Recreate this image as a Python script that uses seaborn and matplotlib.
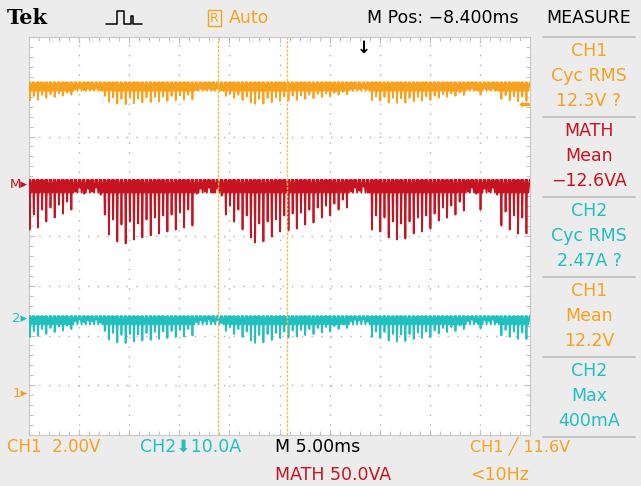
import numpy as np
import pandas as pd
import matplotlib.pyplot as plt
import seaborn as sns
from matplotlib.lines import Line2D

sns.set_theme(style='white')
plt.rcParams['font.family'] = ['DejaVu Sans']

# --- scope settings ---
ch1_scale = 2.0       # V/div
ch2_scale = 10.0      # A/div
math_scale = 50.0     # VA/div
time_scale = 5.0      # ms/div
ch1_offset = -3.16    # div, "1" marker
ch2_offset = -1.65    # div, "2" marker
math_offset = 1.03    # div, "M" marker
trig_level = 11.6     # V on CH1
trig_pos = 6.68       # div (M Pos -8.400ms)
cursor_pos = [3.77, 5.15]

# resting level of each trace between current pulses, and the ringing just below it
ch1_top, ch1_band = 12.5, 12.15     # V
ch2_top, ch2_band = 0.4, -1.3       # A
math_top, math_band = 5.0, -8.0     # VA

# bottom of each pulse, left to right
ch1_dips = [11.78, 11.95, 11.80, 12.00, 11.87, 12.02, 11.91, 12.06, 11.96, 12.09, 12.00,
            12.21, 12.25, 12.18, 12.24, 12.21, 12.25, 12.17,
            11.95, 11.72, 11.89, 11.64, 11.83, 11.62, 11.87, 11.66, 11.84, 11.69,
            11.89, 11.71, 11.91, 11.73, 11.93, 11.75, 11.95, 11.78, 11.97, 11.80, 12.00, 11.82,
            12.18, 12.24, 12.21, 12.25, 12.19, 12.24, 12.16,
            11.95, 12.05, 11.87, 12.00, 11.78, 11.93, 11.69, 11.63, 11.84, 11.64, 11.87, 11.70, 11.89,
            11.75, 11.93, 11.77, 11.96, 11.79, 11.97,
            11.83, 12.00, 11.86, 12.03, 11.91, 12.05, 11.93, 12.07, 12.00, 12.11, 12.02,
            12.21, 12.25, 12.22, 12.26, 12.19,
            11.78, 11.93, 11.76, 11.91, 11.69, 11.87, 11.67, 11.85, 11.68, 11.87,
            11.74, 11.91, 11.76, 11.93, 11.79,
            11.96, 11.88, 12.02, 11.91, 12.05, 11.95, 12.09, 11.99,
            12.21, 12.25, 12.18, 12.00, 12.24, 12.21, 12.25, 12.17,
            11.83, 11.98, 11.78, 11.94, 11.74, 11.92, 11.74]

ch2_dips = [-3.8, -2.6, -3.6, -2.2, -3.2, -2.0, -2.8, -1.7, -2.5, -1.5, -2.2,
            -0.6, -0.3, -0.8, -0.4, -0.6, -0.3, -0.9,
            -2.6, -4.3, -3.0, -4.9, -3.4, -5.0, -3.2, -4.7, -3.3, -4.5,
            -3.0, -4.4, -2.8, -4.2, -2.7, -4.0, -2.6, -3.8, -2.4, -3.7, -2.2, -3.5,
            -0.8, -0.4, -0.6, -0.3, -0.7, -0.4, -1.0,
            -2.6, -1.8, -3.2, -2.2, -3.8, -2.7, -4.5, -5.0, -3.4, -4.9, -3.2, -4.4, -3.0,
            -4.0, -2.7, -3.9, -2.5, -3.7, -2.4,
            -3.4, -2.2, -3.2, -2.0, -2.9, -1.8, -2.7, -1.6, -2.2, -1.3, -2.0,
            -0.6, -0.3, -0.5, -0.2, -0.7,
            -3.8, -2.7, -4.0, -2.8, -4.5, -3.2, -4.7, -3.3, -4.6, -3.2,
            -4.2, -2.9, -4.0, -2.7, -3.8,
            -2.5, -3.1, -2.0, -2.8, -1.8, -2.6, -1.5, -2.2,
            -0.6, -0.3, -0.8, -2.1, -0.4, -0.6, -0.3, -0.9,
            -3.5, -2.4, -3.8, -2.7, -4.2, -2.9, -4.2]

math_dips = [-45, -30, -43, -25, -37, -23, -33, -20, -29, -17, -25,
             -7, -3, -9, -4, -7, -3, -10,
             -30, -50, -35, -57, -40, -59, -37, -55, -39, -53,
             -35, -51, -33, -49, -31, -47, -30, -45, -28, -43, -25, -41,
             -9, -4, -7, -3, -8, -4, -11,
             -30, -21, -37, -25, -45, -31, -53, -58, -39, -57, -37, -52, -35,
             -47, -31, -46, -29, -44, -28,
             -40, -25, -38, -23, -33, -21, -31, -19, -25, -15, -23,
             -7, -3, -6, -2, -8,
             -45, -31, -47, -33, -53, -37, -55, -39, -54, -37,
             -49, -33, -47, -31, -44,
             -29, -36, -23, -33, -21, -30, -17, -26,
             -7, -3, -9, -25, -4, -7, -3, -10,
             -41, -27, -45, -31, -49, -33, -49]

ORANGE = '#f7a21e'
RED = '#c81420'
CYAN = '#22bfbf'
BG = '#ececec'

sample_ms = 10 * time_scale / len(ch1_dips)


def trace(dips, top, band, scale, offset):
    # one pulse per sample: narrow spike to the dip, then a small ring to the band level
    n = len(dips)
    t = np.arange(n) * sample_ms
    frac = [0.0, 0.15, 0.3, 0.6, 0.9]
    x = np.column_stack([t + f * sample_ms for f in frac]).ravel() / time_scale
    y = np.column_stack([np.full(n, top), dips, np.full(n, top),
                         np.full(n, band), np.full(n, top)]).ravel()
    x = np.append(x, 10.0)
    y = np.append(y, top)
    return pd.DataFrame({'div_x': x, 'div_y': offset + y / scale})


df_ch1 = trace(ch1_dips, ch1_top, ch1_band, ch1_scale, ch1_offset)
df_ch2 = trace(ch2_dips, ch2_top, ch2_band, ch2_scale, ch2_offset)
df_math = trace(math_dips, math_top, math_band, math_scale, math_offset)

fig = plt.figure(figsize=(6.41, 4.86), dpi=100, facecolor=BG)
ax = fig.add_axes([29 / 641, 1 - 435 / 486, 501 / 641, 398 / 486])
ax.set_facecolor('white')

for df, col in [(df_ch1, ORANGE), (df_math, RED), (df_ch2, CYAN)]:
    sns.lineplot(data=df, x='div_x', y='div_y', sort=False, estimator=None,
                 color=col, lw=1.3, ax=ax, zorder=3)

ax.set_xlim(0, 10)
ax.set_ylim(-4, 4)
ax.set_xticks(np.arange(0, 11, 1))
ax.set_yticks(np.arange(-4, 5, 1))
ax.set_xticks(np.arange(0, 10.01, 0.2), minor=True)
ax.set_yticks(np.arange(-4, 4.01, 0.2), minor=True)
ax.set_xticklabels([])
ax.set_yticklabels([])
ax.set_xlabel('')
ax.set_ylabel('')
ax.tick_params(which='both', direction='in', colors='#c4c4c4', length=3, width=0.8,
               top=True, right=True, bottom=True, left=True)
ax.tick_params(which='major', length=4)
ax.grid(True, which='major', color='#b0b0b0', lw=1.0, linestyle=(0, (1, 6)))
for s in ax.spines.values():
    s.set_color('#c8c8c8')
    s.set_linewidth(0.8)

# cursors
for c in cursor_pos:
    ax.axvline(c, color='#f9b84a', lw=1.0, linestyle=(0, (2, 1)), zorder=4)

# trigger position and level markers
ax.text(trig_pos, 3.97, '↓', color='black', ha='center', va='top', fontsize=12,
        fontweight='bold', zorder=5)
ax.text(10.0, ch1_offset + trig_level / ch1_scale, '⬅', color=ORANGE, ha='right',
        va='center', fontsize=10, zorder=5)

# channel ground markers on the left
for lbl, off, col in [('M▸', math_offset, RED), ('2▸', ch2_offset, CYAN), ('1▸', ch1_offset, ORANGE)]:
    ax.text(-0.003, off, lbl, color=col, ha='right', va='center', fontsize=9.5,
            transform=ax.get_yaxis_transform(), clip_on=False)


def ftext(x, y, s, **kw):
    fig.text(x / 641, 1 - y / 486, s, va='center', **kw)


# header
ftext(7, 18, 'Tek', fontsize=15, fontweight='bold', family='DejaVu Serif', color='black')
icon = [(106, 24), (117, 24), (117, 11), (124, 11), (124, 24), (131, 24), (131, 16),
        (133, 16), (133, 24), (142, 24)]
fig.add_artist(Line2D([p[0] / 641 for p in icon], [1 - p[1] / 486 for p in icon],
                      color='black', lw=1.1, transform=fig.transFigure))
ftext(210, 18, 'R', fontsize=9, color=ORANGE,
      bbox=dict(boxstyle='square,pad=0.15', fc='none', ec=ORANGE, lw=1.0))
ftext(229, 18, 'Auto', fontsize=12.5, color=ORANGE)
ftext(367, 18, 'M Pos: −8.400ms', fontsize=12.5, color='black')
ftext(589, 18, 'MEASURE', fontsize=12.5, color='black', ha='center')

# measurement panel
measures = [('CH1', 'Cyc RMS', '12.3V ?', ORANGE),
            ('MATH', 'Mean', '−12.6VA', RED),
            ('CH2', 'Cyc RMS', '2.47A ?', CYAN),
            ('CH1', 'Mean', '12.2V', ORANGE),
            ('CH2', 'Max', '400mA', CYAN)]
for k, (a, b, c, col) in enumerate(measures):
    y0 = 37 + 80 * k
    for j, s in enumerate([a, b, c]):
        ftext(589, y0 + 14 + 25 * j, s, fontsize=12.5, color=col, ha='center')
for k in range(6):
    y = 1 - (37 + 80 * k) / 486
    fig.add_artist(Line2D([543 / 641, 635 / 641], [y, y], color='#bdbdbd', lw=1.2,
                          transform=fig.transFigure))

# footer
ftext(7, 447, 'CH1  2.00V', fontsize=12, color=ORANGE)
ftext(140, 447, 'CH2⬇10.0A', fontsize=12.5, color=CYAN)
ftext(275, 447, 'M 5.00ms', fontsize=12.5, color='black')
ftext(275, 475, 'MATH 50.0VA', fontsize=12.5, color=RED)
ftext(470, 447, 'CH1 ╱ 11.6V', fontsize=11.5, color=ORANGE)
ftext(470, 475, '<10Hz', fontsize=12.5, color=ORANGE)

fig.savefig('out.png', dpi=100, facecolor=BG)
